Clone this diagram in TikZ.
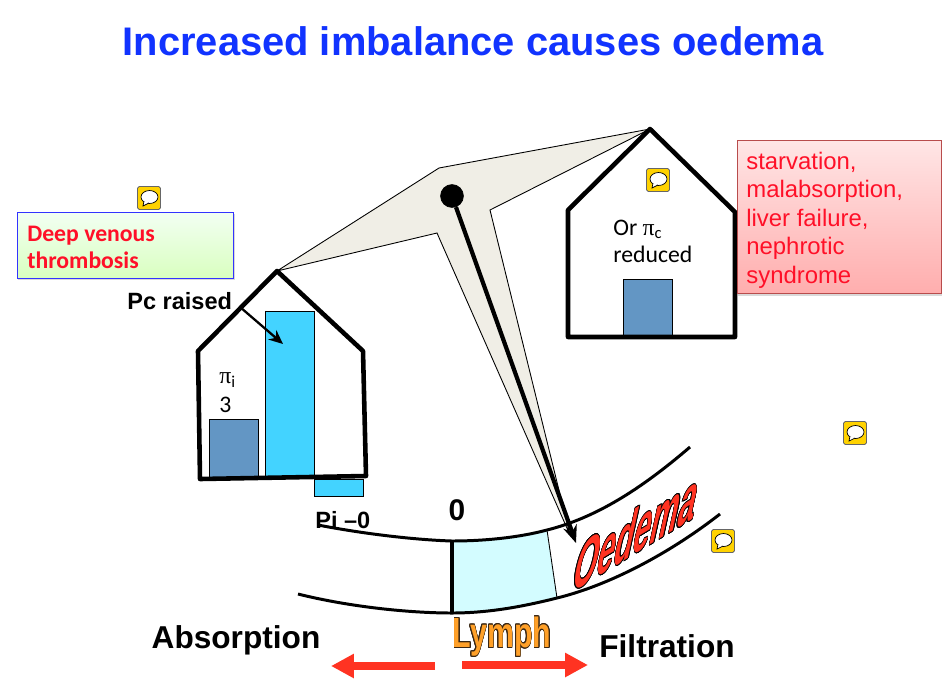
\documentclass[tikz,border=0pt]{standalone}
\usepackage{fontspec}
\usepackage{contour}
\usetikzlibrary{arrows.meta,shadows}
\setmainfont{Liberation Sans}
\newfontfamily\calibrifont{Carlito}
\newfontfamily\pifont{Liberation Serif}
\contourlength{0.5pt}
\definecolor{titleblue}{HTML}{1133FF}
\definecolor{barblue}{HTML}{6396C4}
\definecolor{barcyan}{HTML}{43D3FF}
\definecolor{wedgegrey}{HTML}{F0EEE6}
\definecolor{lymphcyan}{HTML}{D3FCFF}
\definecolor{textred}{HTML}{FF1028}
\definecolor{arrowred}{HTML}{FF3322}
\definecolor{lymphorange}{HTML}{FFA028}
\definecolor{markyellow}{HTML}{FFD200}
\tikzset{
	house/.style={draw, line width=2.6pt, line join=round},
	bar/.style={draw, line width=0.5pt},
	label/.style={inner sep=0pt, font=\bfseries\fontsize{18}{20}\selectfont},
	bigarrow/.style={draw=arrowred, line width=4.2pt, -{Triangle[length=13pt, width=13pt]}},
	commentmark/.pic={
		\draw[draw=black!60, fill=markyellow, rounded corners=1pt, line width=0.5pt] (-11.5,-11.5) rectangle (11.5,11.5);
		\draw[fill=white, line width=0.4pt] (0.5,-1) ellipse (8.5 and 6.5);
		\draw[fill=white, line width=0.4pt] (-5,3) -- (-6,8) -- (0,5);
	}
}
\begin{document}
\begin{tikzpicture}[x=0.02cm, y=-0.02cm]
	\useasboundingbox (0,0) rectangle (946,684);
	\node (title) at (473,41) [inner sep=0pt, text=titleblue, font=\bfseries\fontsize{22.7}{28}\selectfont] {Increased imbalance causes oedema};
	% balance
	\coordinate (top) at (650,129);
	\coordinate (mid) at (439,168);
	\coordinate (left) at (277,271);
	\coordinate (lower) at (437,233);
	\coordinate (tip) at (570,535);
	\coordinate (right) at (490,210);
	\draw[fill=wedgegrey, line width=0.5pt] (top) -- (mid) -- (left) -- (lower) -- (tip) -- (right) -- cycle;
	% left house
	\node (pibar) at (234,448) [bar, fill=barblue, minimum width=28pt, minimum height=33pt, inner sep=0pt] {};
	\node (pcbar) at (290,394) [bar, fill=barcyan, minimum width=28pt, minimum height=94.5pt, inner sep=0pt] {};
	\node (pibelow) at (339,488) [bar, fill=barcyan, minimum width=28pt, minimum height=10pt, inner sep=0pt] {};
	\draw[house] (198,351) -- (left) -- (363,351) -- (366,476) -- (200,479) -- cycle;
	\node (pilabel) at (219,380) [anchor=west, inner sep=0pt, font=\calibrifont\fontsize{13.5}{15}\selectfont] {{\pifont π}\textsubscript{i}};
	\node (three) at (219,405) [anchor=west, inner sep=0pt, font=\calibrifont\fontsize{13.5}{15}\selectfont] {3};
	\node (pc) at (127,301) [anchor=west, label, font=\bfseries\fontsize{13.4}{15}\selectfont] {Pc raised};
	\coordinate (pcstart) at (240,307);
	\coordinate (pcend) at (283,344);
	\draw (pcstart) edge[line width=1.3pt, -{Stealth[length=8pt, width=7pt]}] (pcend);
	\node (pizero) at (315,520) [anchor=west, label, font=\bfseries\fontsize{13.4}{14}\selectfont] {Pi --0};
	% right house
	\node (door) at (648,307.5) [bar, fill=barblue, minimum width=28pt, minimum height=32.5pt, inner sep=0pt] {};
	\draw[house] (568,210) -- (top) -- (735,212) -- (735,337) -- (568,337) -- cycle;
	\node (reduced) at (613,241) [anchor=west, inner sep=0pt, align=left, font=\calibrifont\fontsize{13.5}{15.3}\selectfont] {Or {\pifont π}\textsubscript{c}\\reduced};
	% boxes
	\node (dvt) at (17,212) [anchor=north west, draw=blue!80, line width=0.6pt, top color=green!5!white, bottom color=green!60!yellow!25!white, drop shadow={shadow xshift=0.5pt, shadow yshift=-1pt, opacity=0.3}, minimum width=123pt, minimum height=37.4pt, inner sep=0pt] {};
	\node (dvttext) at (27,247) [anchor=west, inner sep=0pt, align=left, text=textred, font=\calibrifont\bfseries\fontsize{13.5}{15.3}\selectfont] {Deep venous\\thrombosis};
	\node (causes) at (737,140) [anchor=north west, draw=red!60!black!70, line width=0.5pt, top color=red!10!white, bottom color=red!32!white, drop shadow={shadow xshift=0.5pt, shadow yshift=-1pt, opacity=0.3}, minimum width=116pt, minimum height=87.3pt, inner sep=0pt] {};
	\node (causestext) at (746,220) [anchor=west, inner sep=0pt, align=left, text=textred, font=\fontsize{13.6}{16.2}\selectfont] {starvation,\\malabsorption,\\liver failure,\\nephrotic\\syndrome};
	% vessel
	\coordinate (ua) at (318,525);
	\coordinate (ub) at (452,541);
	\coordinate (uc) at (547,530);
	\coordinate (ud) at (690,447);
	\coordinate (la) at (298,594);
	\coordinate (lb) at (452,613);
	\coordinate (lc) at (557,598);
	\coordinate (ld) at (720,514);
	\draw[fill=lymphcyan, line width=0.5pt] (ub) .. controls (482,541) and (517,538) .. (uc) -- (lc) .. controls (520,607) and (485,612) .. (lb) -- cycle;
	\draw[line width=1.8pt] (ub) -- (lb);
	\draw[line width=1.7pt] (ua) .. controls (370,535) and (420,540) .. (ub) .. controls (482,541) and (517,538) .. (uc) .. controls (595,518) and (640,490) .. (ud);
	\draw[line width=1.7pt] (la) .. controls (350,607) and (410,613) .. (lb) .. controls (490,613) and (525,606) .. (lc) .. controls (610,585) and (670,553) .. (ld);
	% pointer
	\node (pivot) at (452,196) [draw, circle, fill=black, minimum size=13pt, inner sep=0pt] {};
	\coordinate (pointer) at (576,543);
	\draw (pivot) edge[line width=2.4pt, -{Stealth[length=10pt, width=8pt]}] (pointer);
	% labels
	\node (zero) at (457,510) [label, font=\bfseries\fontsize{17}{20}\selectfont] {0};
	\node (oedema) at (0,0) [cm={0.43,0.26,0.22,1,(637,531)}, transform shape, inner sep=0pt, font=\bfseries\fontsize{41}{46}\selectfont] {\contour{black}{\textcolor{arrowred}{Oedema}}};
	\node (lymph) at (0,0) [cm={0.72,0,0,1,(502,637)}, transform shape, inner sep=0pt, font=\bfseries\fontsize{24}{28}\selectfont] {\contour{black!70!brown}{\textcolor{lymphorange}{Lymph}}};
	\node (absorption) at (236,640) [label] {Absorption};
	\node (filtration) at (667,646) [label] {Filtration};
	\coordinate (absstart) at (435,666);
	\coordinate (absend) at (331,666);
	\coordinate (filstart) at (462,665);
	\coordinate (filend) at (588,665);
	\draw (absstart) edge[bigarrow] (absend);
	\draw (filstart) edge[bigarrow] (filend);
	% comment marks
	\pic at (149,198) {commentmark};
	\pic at (658,180) {commentmark};
	\pic at (855,433) {commentmark};
	\pic at (723,541) {commentmark};
\end{tikzpicture}
\end{document}
